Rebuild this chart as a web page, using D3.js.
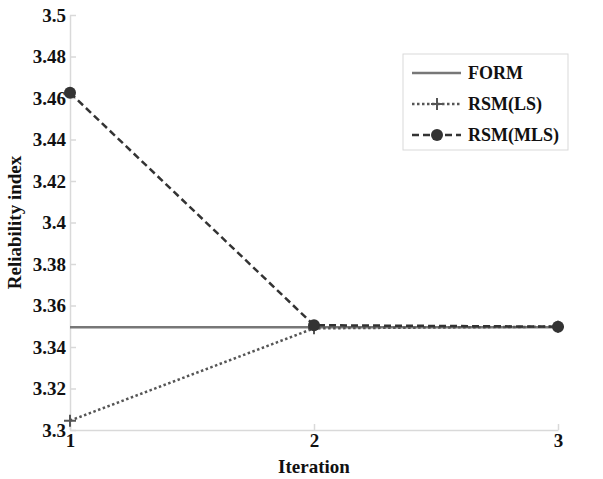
<!DOCTYPE html>
<html lang="en">
<head>
<meta charset="UTF-8">
<script src="https://d3js.org/d3.v7.min.js"></script>
<style>
    body { margin: 0; background: #fff; }
    .lbl { font-family: "Liberation Serif", "DejaVu Serif", serif; font-weight: 700; }
</style>
</head>
<body>
<div id="chart"></div>
<script>
    const iterations = [1, 2, 3];
    const form = [3.3495, 3.3495, 3.3495];
    const rsmLS = [3.3045, 3.3490, 3.3498];
    const rsmMLS = [3.4625, 3.3505, 3.3498];
    const yTicks = [3.3, 3.32, 3.34, 3.36, 3.38, 3.4, 3.42, 3.44, 3.46, 3.48, 3.5];
    const seriesNames = ["FORM", "RSM(LS)", "RSM(MLS)"];

    var width = 603, height = 479;
    var svg = d3.select("#chart").append("svg")
        .attr("width", width).attr("height", height);

    var x = d3.scaleLinear().domain([1, 3]).range([70, 558]);
    var y = d3.scaleLinear().domain([3.3, 3.5]).range([430, 15]);

    // gridless axes, light grey
    var gx = svg.append("g").attr("transform", "translate(0,430)")
        .call(d3.axisBottom(x).tickValues(iterations).tickFormat(d3.format("d")).tickSizeInner(-6).tickSizeOuter(0).tickPadding(3));
    var gy = svg.append("g").attr("transform", "translate(70,0)")
        .call(d3.axisLeft(y).tickValues(yTicks).tickFormat(d => d).tickSizeInner(-6).tickSizeOuter(0).tickPadding(4));
    [gx, gy].forEach(g => {
        g.attr("font-family", null).attr("font-size", null);
        g.select(".domain").attr("stroke", "#d9d9d9").attr("stroke-width", 1.5);
        g.selectAll(".tick line").attr("stroke", "#d9d9d9").attr("stroke-width", 1.5);
        g.selectAll(".tick text").attr("class", "lbl").attr("font-size", 19).attr("fill", "#111");
    });
    gy.selectAll(".tick text").attr("dy", "0.32em");

    svg.append("text").attr("class", "lbl").attr("x", x(2)).attr("y", 473).attr("text-anchor", "middle")
        .attr("font-size", 19).attr("fill", "#111").text("Iteration");
    svg.append("text").attr("class", "lbl").attr("transform", "translate(21," + y(3.4) + ") rotate(-90)")
        .attr("text-anchor", "middle").attr("font-size", 19).attr("fill", "#111").text("Reliability index");

    var line = d3.line().x((d, i) => x(iterations[i])).y(d => y(d));

    var styles = [
        {data: form, color: "#777", dash: null},
        {data: rsmLS, color: "#555", dash: "2.5,2.5"},
        {data: rsmMLS, color: "#333", dash: "7,4"}
    ];

    styles.forEach(s => {
        svg.append("path").datum(s.data).attr("d", line)
            .attr("fill", "none").attr("stroke", s.color)
            .attr("stroke-width", 2.5).attr("stroke-dasharray", s.dash);
    });

    // RSM(LS) plus markers
    svg.selectAll(".plus").data(rsmLS).enter().append("path")
        .attr("d", (d, i) => { var cx = x(iterations[i]), cy = y(d); return `M${cx - 6},${cy}H${cx + 6}M${cx},${cy - 6}V${cy + 6}`; })
        .attr("stroke", "#555").attr("stroke-width", 2);
    // RSM(MLS) circles
    svg.selectAll(".dot").data(rsmMLS).enter().append("circle")
        .attr("cx", (d, i) => x(iterations[i])).attr("cy", d => y(d)).attr("r", 6)
        .attr("fill", "#333");

    // legend
    var lg = svg.append("g");
    lg.append("rect").attr("x", 403).attr("y", 54).attr("width", 165).attr("height", 96)
        .attr("fill", "#fff").attr("stroke", "#d9d9d9").attr("stroke-width", 1);
    styles.forEach((s, i) => {
        var ly = 73 + i * 31;
        lg.append("line").attr("x1", 412).attr("x2", 461).attr("y1", ly).attr("y2", ly)
            .attr("stroke", s.color).attr("stroke-width", 2.5).attr("stroke-dasharray", s.dash);
        if (i === 1) {
            lg.append("path").attr("d", `M431,${ly}H443M437,${ly - 6}V${ly + 6}`).attr("stroke", "#555").attr("stroke-width", 2);
        }
        if (i === 2) {
            lg.append("circle").attr("cx", 437).attr("cy", ly).attr("r", 6).attr("fill", "#333");
        }
        lg.append("text").attr("class", "lbl").attr("x", 468).attr("y", ly).attr("dy", "0.35em")
            .attr("font-size", 18).attr("fill", "#111").text(seriesNames[i]);
    });
</script>
</body>
</html>
